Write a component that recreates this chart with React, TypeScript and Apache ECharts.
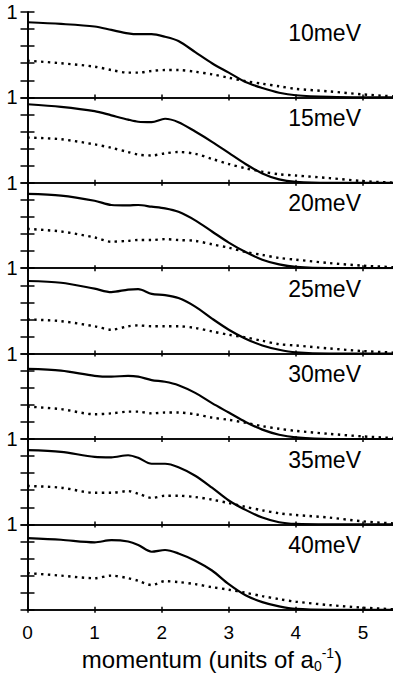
import React, { useEffect, useRef } from 'react';
import * as echarts from 'echarts';

const LABELS = ['10meV', '15meV', '20meV', '25meV', '30meV', '35meV', '40meV'];
const X = [0, 0.5, 1, 1.25, 1.5, 1.65, 1.85, 2.05, 2.25, 2.5, 2.75, 3, 3.25, 3.5, 3.75, 4, 4.5, 5, 5.5];
const X_TICKS = [0, 1, 2, 3, 4, 5];

const SOLID_10 = [0.88, 0.86, 0.83, 0.79, 0.75, 0.74, 0.74, 0.71, 0.66, 0.53, 0.40, 0.29, 0.18, 0.11, 0.055, 0.025, 0.005, 0, 0];
const DOTTED_10 = [0.43, 0.40, 0.36, 0.32, 0.29, 0.29, 0.31, 0.32, 0.32, 0.30, 0.27, 0.23, 0.19, 0.16, 0.13, 0.10, 0.07, 0.035, 0.01];
const SOLID_15 = [0.92, 0.89, 0.84, 0.79, 0.74, 0.715, 0.71, 0.75, 0.71, 0.60, 0.48, 0.35, 0.22, 0.11, 0.04, 0.012, 0, 0, 0];
const DOTTED_15 = [0.53, 0.51, 0.45, 0.41, 0.36, 0.33, 0.32, 0.345, 0.36, 0.34, 0.28, 0.22, 0.17, 0.13, 0.10, 0.085, 0.055, 0.02, 0.0];
const SOLID_20 = [0.87, 0.85, 0.79, 0.74, 0.735, 0.74, 0.72, 0.70, 0.66, 0.56, 0.43, 0.30, 0.19, 0.10, 0.045, 0.015, 0, 0, 0];
const DOTTED_20 = [0.46, 0.43, 0.36, 0.31, 0.32, 0.33, 0.33, 0.34, 0.33, 0.32, 0.28, 0.24, 0.19, 0.155, 0.12, 0.10, 0.06, 0.03, 0.01];
const SOLID_25 = [0.85, 0.83, 0.76, 0.72, 0.75, 0.755, 0.70, 0.685, 0.65, 0.55, 0.41, 0.28, 0.175, 0.095, 0.045, 0.015, 0, 0, 0];
const DOTTED_25 = [0.40, 0.38, 0.32, 0.28, 0.32, 0.33, 0.32, 0.32, 0.32, 0.30, 0.26, 0.22, 0.19, 0.15, 0.11, 0.095, 0.06, 0.03, 0.01];
const SOLID_30 = [0.82, 0.80, 0.74, 0.73, 0.74, 0.73, 0.69, 0.67, 0.63, 0.54, 0.42, 0.31, 0.20, 0.11, 0.05, 0.02, 0, 0, 0];
const DOTTED_30 = [0.38, 0.35, 0.29, 0.30, 0.32, 0.32, 0.30, 0.31, 0.31, 0.29, 0.25, 0.225, 0.19, 0.15, 0.12, 0.095, 0.06, 0.03, 0.01];
const SOLID_35 = [0.87, 0.85, 0.79, 0.785, 0.81, 0.78, 0.71, 0.71, 0.67, 0.57, 0.43, 0.28, 0.17, 0.08, 0.025, 0.005, 0, 0, 0];
const DOTTED_35 = [0.45, 0.43, 0.37, 0.37, 0.39, 0.36, 0.31, 0.335, 0.335, 0.32, 0.29, 0.25, 0.205, 0.165, 0.13, 0.11, 0.08, 0.035, 0.01];
const SOLID_40 = [0.84, 0.82, 0.79, 0.815, 0.80, 0.76, 0.68, 0.70, 0.66, 0.575, 0.46, 0.30, 0.17, 0.09, 0.04, 0.01, 0, 0, 0];
const DOTTED_40 = [0.43, 0.40, 0.37, 0.40, 0.37, 0.34, 0.29, 0.335, 0.325, 0.30, 0.265, 0.235, 0.20, 0.16, 0.125, 0.095, 0.055, 0.025, 0.005];

const SOLID = [SOLID_10, SOLID_15, SOLID_20, SOLID_25, SOLID_30, SOLID_35, SOLID_40];
const DOTTED = [DOTTED_10, DOTTED_15, DOTTED_20, DOTTED_25, DOTTED_30, DOTTED_35, DOTTED_40];

const FONT = '"Liberation Sans", Arial, Helvetica, sans-serif';

const mkLine = () => ({ show: true, lineStyle: { color: '#000', width: 1.7 } });
const mkTick = (len: number) => ({ show: true, inside: true, length: len, lineStyle: { color: '#000', width: 1.5 } });

export default function App() {
  const ref = useRef<HTMLDivElement>(null);
  useEffect(() => {
    const chart = echarts.init(ref.current!, undefined, { renderer: 'svg' });
    const top0 = 12;
    const ph = 85.4;
    const left = 27.5;
    const right = -3.5;
    const grids: any[] = [];
    const xAxes: any[] = [];
    const yAxes: any[] = [];
    const series: any[] = [];
    const titles: any[] = [];
    LABELS.forEach((lab, i) => {
      const last = i === LABELS.length - 1;
      grids.push({ left, right, top: top0 + i * ph, height: ph, outerBoundsMode: 'none', containLabel: false });
      xAxes.push({
        gridIndex: i, type: 'value', min: 0, max: 5.5, interval: 1, position: 'bottom',
        axisLine: mkLine(),
        axisTick: mkTick(3),
        axisLabel: {
          show: true, margin: 13, color: '#000', fontSize: 19, fontFamily: FONT,
          formatter: (v: number) => (last && X_TICKS.indexOf(v) >= 0 ? String(v) : ''),
        },
        splitLine: { show: false },
        name: last ? 'momentum (units of a{sub|0}{sup|-1})' : '',
        nameLocation: 'middle',
        nameGap: 36,
        nameTextStyle: {
          color: '#000', fontSize: 24, fontFamily: FONT,
          rich: {
            sub: { fontSize: 14, color: '#000', fontFamily: FONT, padding: [13, 0, 0, 0] },
            sup: { fontSize: 14, color: '#000', fontFamily: FONT, padding: [0, 0, 13, 0] },
          },
        },
      });
      xAxes.push({
        gridIndex: i, type: 'value', min: 0, max: 5.5, interval: 1, position: 'top',
        axisLine: mkLine(),
        axisTick: mkTick(3),
        axisLabel: { show: true, formatter: () => '' },
        splitLine: { show: false },
      });
      yAxes.push({
        gridIndex: i, type: 'value', min: 0, max: 1, interval: 0.2, position: 'left',
        axisLine: mkLine(),
        axisTick: mkTick(7),
        axisLabel: {
          show: true, showMaxLabel: true, margin: 10, color: '#000', fontSize: 20, fontFamily: FONT,
          verticalAlign: 'middle', padding: [10, 0, 0, 0],
          formatter: (v: number) => (v === 1 ? '1' : ''),
        },
        splitLine: { show: false },
      });
      yAxes.push({
        gridIndex: i, type: 'value', min: 0, max: 1, interval: 0.2, position: 'right',
        axisLine: mkLine(),
        axisTick: mkTick(7),
        axisLabel: { show: true, formatter: () => '' },
        splitLine: { show: false },
      });
      series.push({
        type: 'line', name: lab + ' solid', xAxisIndex: 2 * i, yAxisIndex: 2 * i,
        data: X.map((x, k) => [x, SOLID[i][k]]),
        showSymbol: false, smooth: 0.3,
        lineStyle: { color: '#000', width: 2.2 },
      });
      series.push({
        type: 'line', name: lab + ' dotted', xAxisIndex: 2 * i, yAxisIndex: 2 * i,
        data: X.map((x, k) => [x, DOTTED[i][k]]),
        showSymbol: false, smooth: 0.3,
        lineStyle: { color: '#000', width: 2.4, type: [2.4, 4.4] },
      });
      titles.push({
        text: lab, right: 32, top: top0 + i * ph + 9, padding: 0,
        textStyle: { fontSize: 23, fontWeight: 'normal', color: '#000', fontFamily: FONT },
      });
    });
    chart.setOption({
      animation: false,
      backgroundColor: '#fff',
      title: titles,
      grid: grids,
      xAxis: xAxes,
      yAxis: yAxes,
      series,
    });
    return () => chart.dispose();
  }, []);
  return (
    <div
      ref={ref}
      style={{ position: 'absolute', left: 0, top: 0, width: 393, height: 675, background: '#fff' }}
    />
  );
}
